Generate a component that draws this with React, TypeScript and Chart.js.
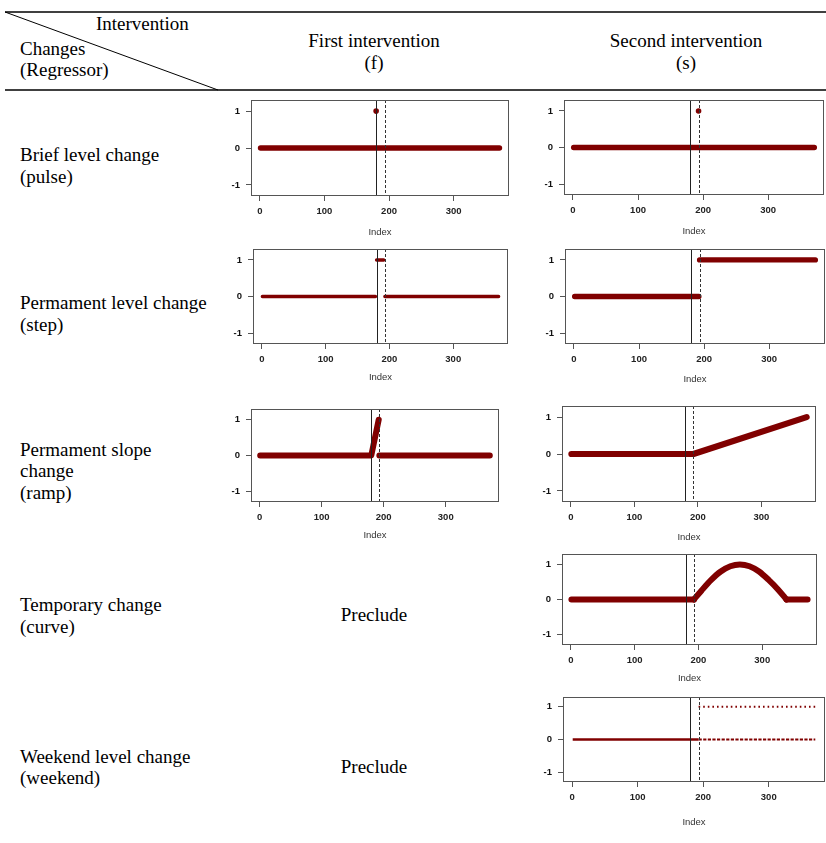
import React, { useEffect, useRef } from 'react';
import { Chart, registerables } from 'chart.js';

Chart.register(...registerables);

// ---------- data ----------
const N_OBS = 371;
const FIRST_INTERVENTION = 180;
const SECOND_INTERVENTION = 193;
const X_TICKS = [0, 100, 200, 300];
const Y_TICKS = [-1, 0, 1];
const Y_LIMIT = 1.3;

type Pt = [number, number | null];

// pulse (first): level 0 everywhere, single spike at 180
const PULSE_F_LEVEL: Pt[] = [[1, 0], [371, 0]];
const PULSE_F_SPIKE: Pt[] = [[180, 1]];
// pulse (second)
const PULSE_S_LEVEL: Pt[] = [[1, 0], [371, 0]];
const PULSE_S_SPIKE: Pt[] = [[193, 1]];
// step (first): 1 between the two interventions
const STEP_F: Pt[] = [[1, 0], [178, 0], [179, null], [180, 1], [191, 1], [192, null], [193, 0], [371, 0]];
// step (second)
const STEP_S: Pt[] = [[1, 0], [192, 0], [192.5, null], [193, 1], [371, 1]];
// ramp (first)
const RAMP_F: Pt[] = [[1, 0], [180, 0], [192, 1], [192.5, null], [193, 0], [371, 0]];
// ramp (second)
const RAMP_S: Pt[] = [[1, 0], [193, 0], [371, 1]];
// curve (second)
const CURVE_S_FLAT_BEFORE: Pt[] = [[1, 0], [193, 0]];
const CURVE_S_ARC: Pt[] = [
  [193, 0], [205, 0.26], [220, 0.56], [235, 0.8], [250, 0.95], [265, 1],
  [280, 0.95], [295, 0.8], [310, 0.56], [325, 0.28], [338, 0],
];
const CURVE_S_FLAT_AFTER: Pt[] = [[338, 0], [371, 0]];
// weekend (second)
const WEEKEND_BEFORE: Pt[] = [[1, 0], [193, 0]];
const WEEKEND_WEEKDAYS: Pt[] = [[193, 0], [371, 0]];
const WEEKEND_WEEKENDS: Pt[] = [[193, 1], [371, 1]];

const RED = '#800000';
const SANS = '"Liberation Sans", Arial, sans-serif';
const SERIF = '"Liberation Serif", "Times New Roman", serif';

type Series = {
  data: Pt[];
  width?: number;
  dash?: number[];
  cap?: 'round' | 'butt';
  radius?: number;
  pointOnly?: boolean;
  smooth?: boolean;
};

type Box = { l: number; t: number; r: number; b: number };

const LEFT_M = 40;
const TOP_M = 6;
const RIGHT_M = 6;

const framePlugin = {
  id: 'frameAndInterventions',
  afterDatasetsDraw(chart: any) {
    const { ctx, chartArea } = chart;
    const xs = chart.scales.x;
    ctx.save();
    const x1 = Math.round(xs.getPixelForValue(FIRST_INTERVENTION)) + 0.5;
    const x2 = Math.round(xs.getPixelForValue(SECOND_INTERVENTION)) + 0.5;
    ctx.lineWidth = 1;
    ctx.strokeStyle = '#222';
    ctx.setLineDash([]);
    ctx.beginPath();
    ctx.moveTo(x1, chartArea.top);
    ctx.lineTo(x1, chartArea.bottom);
    ctx.stroke();
    ctx.strokeStyle = '#333';
    ctx.setLineDash([3, 2]);
    ctx.beginPath();
    ctx.moveTo(x2, chartArea.top);
    ctx.lineTo(x2, chartArea.bottom);
    ctx.stroke();
    ctx.setLineDash([]);
    ctx.strokeStyle = '#555';
    ctx.strokeRect(chartArea.left + 0.5, chartArea.top + 0.5, chartArea.right - chartArea.left - 1, chartArea.bottom - chartArea.top - 1);
    ctx.restore();
  },
};

function SmallPlot({ box, gap, series }: { box: Box; gap: number; series: Series[] }) {
  const ref = useRef<HTMLCanvasElement | null>(null);
  const bottomM = gap + 6;
  const w = box.r - box.l + LEFT_M + RIGHT_M;
  const h = box.b - box.t + TOP_M + bottomM;
  useEffect(() => {
    if (!ref.current) return;
    const xMin = 1 - 0.04 * (N_OBS - 1);
    const xMax = N_OBS + 0.04 * (N_OBS - 1);
    const tickFont = { family: SANS, size: 9.5, weight: 'bold' as const };
    const chart = new Chart(ref.current, {
      type: 'line',
      data: {
        datasets: series.map((s) => ({
          data: s.data.map(([x, y]) => ({ x, y })),
          showLine: !s.pointOnly,
          borderColor: RED,
          backgroundColor: RED,
          borderWidth: s.width ?? 5,
          borderDash: s.dash ?? [],
          borderCapStyle: s.cap ?? 'round',
          borderJoinStyle: 'round',
          pointRadius: s.pointOnly ? s.radius ?? 2.7 : 0,
          pointBorderWidth: 0,
          pointHoverRadius: 0,
          spanGaps: false,
          tension: 0,
          cubicInterpolationMode: s.smooth ? 'monotone' : 'default',
          clip: 4,
        })) as any,
      },
      options: {
        animation: false,
        responsive: false,
        maintainAspectRatio: false,
        events: [],
        layout: { padding: { left: 0, top: TOP_M, right: RIGHT_M, bottom: 0 }, autoPadding: false },
        plugins: { legend: { display: false }, tooltip: { enabled: false }, title: { display: false } },
        scales: {
          x: {
            type: 'linear',
            min: xMin,
            max: xMax,
            afterBuildTicks: (s: any) => {
              s.ticks = X_TICKS.map((v) => ({ value: v }));
            },
            afterFit: (s: any) => {
              s.height = bottomM;
              s.paddingLeft = 0;
              s.paddingRight = 0;
            },
            grid: { drawOnChartArea: false, drawTicks: true, tickLength: 5, color: '#555', lineWidth: 1 },
            border: { display: false },
            ticks: { font: tickFont, color: '#222', padding: 5, maxRotation: 0, autoSkip: false },
            title: { display: true, text: 'Index', font: { family: SANS, size: 9.5 }, color: '#333', padding: 0 },
          },
          y: {
            type: 'linear',
            min: -Y_LIMIT,
            max: Y_LIMIT,
            afterBuildTicks: (s: any) => {
              s.ticks = Y_TICKS.map((v) => ({ value: v }));
            },
            afterFit: (s: any) => {
              s.width = LEFT_M;
              s.paddingTop = 0;
              s.paddingBottom = 0;
            },
            grid: { drawOnChartArea: false, drawTicks: true, tickLength: 5, color: '#555', lineWidth: 1 },
            border: { display: false },
            ticks: { font: tickFont, color: '#111', padding: 6, autoSkip: false },
          },
        },
      } as any,
      plugins: [framePlugin],
    });
    return () => chart.destroy();
  }, []);
  return (
    <canvas
      ref={ref}
      width={w}
      height={h}
      style={{ position: 'absolute', left: box.l - LEFT_M, top: box.t - TOP_M, width: w, height: h }}
    />
  );
}

function Txt({ x, y, children, center }: { x: number; y: number; children: React.ReactNode; center?: boolean }) {
  const style: React.CSSProperties = {
    position: 'absolute',
    top: y - 11,
    height: 22,
    lineHeight: '22px',
    fontSize: 19,
    fontFamily: SERIF,
    whiteSpace: 'nowrap',
    color: '#000',
  };
  if (center) {
    style.left = x - 150;
    style.width = 300;
    style.textAlign = 'center';
  } else {
    style.left = x;
  }
  return <div style={style}>{children}</div>;
}

export default function App() {
  return (
    <div style={{ position: 'absolute', left: 0, top: 0, width: 826, height: 843, background: '#fff', overflow: 'hidden' }}>
      <svg width={826} height={843} style={{ position: 'absolute', left: 0, top: 0 }}>
        <line x1={5} y1={12} x2={826} y2={12} stroke="#000" strokeWidth={1.3} />
        <line x1={5} y1={90} x2={826} y2={90} stroke="#000" strokeWidth={1.3} />
        <line x1={5} y1={12} x2={218} y2={90} stroke="#000" strokeWidth={1} />
      </svg>

      <Txt x={96} y={24}>Intervention</Txt>
      <Txt x={20} y={49}>Changes</Txt>
      <Txt x={20} y={70}>(Regressor)</Txt>
      <Txt x={374} y={41} center>First intervention</Txt>
      <Txt x={374} y={63} center>(f)</Txt>
      <Txt x={686} y={41} center>Second intervention</Txt>
      <Txt x={686} y={63} center>(s)</Txt>

      <Txt x={20} y={155}>Brief level change</Txt>
      <Txt x={20} y={177}>(pulse)</Txt>
      <Txt x={20} y={303}>Permament level change</Txt>
      <Txt x={20} y={325}>(step)</Txt>
      <Txt x={20} y={450}>Permament slope</Txt>
      <Txt x={20} y={471}>change</Txt>
      <Txt x={20} y={493}>(ramp)</Txt>
      <Txt x={20} y={605}>Temporary change</Txt>
      <Txt x={20} y={627}>(curve)</Txt>
      <Txt x={20} y={757}>Weekend level change</Txt>
      <Txt x={20} y={778}>(weekend)</Txt>
      <Txt x={374} y={615} center>Preclude</Txt>
      <Txt x={374} y={767} center>Preclude</Txt>

      <SmallPlot box={{ l: 251, t: 100, r: 509, b: 196 }} gap={36}
        series={[{ data: PULSE_F_LEVEL, width: 5.5 }, { data: PULSE_F_SPIKE, pointOnly: true, radius: 2.8 }]} />
      <SmallPlot box={{ l: 564, t: 100, r: 824, b: 195 }} gap={36}
        series={[{ data: PULSE_S_LEVEL, width: 5.3 }, { data: PULSE_S_SPIKE, pointOnly: true, radius: 2.8 }]} />
      <SmallPlot box={{ l: 253, t: 249, r: 508, b: 344 }} gap={33}
        series={[{ data: STEP_F, width: 3.6 }]} />
      <SmallPlot box={{ l: 565, t: 249, r: 825, b: 344 }} gap={35}
        series={[{ data: STEP_S, width: 5.3 }]} />
      <SmallPlot box={{ l: 251, t: 409, r: 499, b: 502 }} gap={33}
        series={[{ data: RAMP_F, width: 6 }]} />
      <SmallPlot box={{ l: 562, t: 406, r: 816, b: 502 }} gap={35}
        series={[{ data: RAMP_S, width: 6.2 }]} />
      <SmallPlot box={{ l: 562, t: 554, r: 817, b: 645 }} gap={33}
        series={[
          { data: CURVE_S_FLAT_BEFORE, width: 6 },
          { data: CURVE_S_ARC, width: 6, smooth: true },
          { data: CURVE_S_FLAT_AFTER, width: 6 },
        ]} />
      <SmallPlot box={{ l: 563, t: 697, r: 825, b: 782 }} gap={40}
        series={[
          { data: WEEKEND_BEFORE, width: 2.6, cap: 'butt' },
          { data: WEEKEND_WEEKDAYS, width: 2, dash: [3.2, 1.4], cap: 'butt' },
          { data: WEEKEND_WEEKENDS, width: 2, dash: [1.6, 3.0], cap: 'butt' },
        ]} />
    </div>
  );
}
